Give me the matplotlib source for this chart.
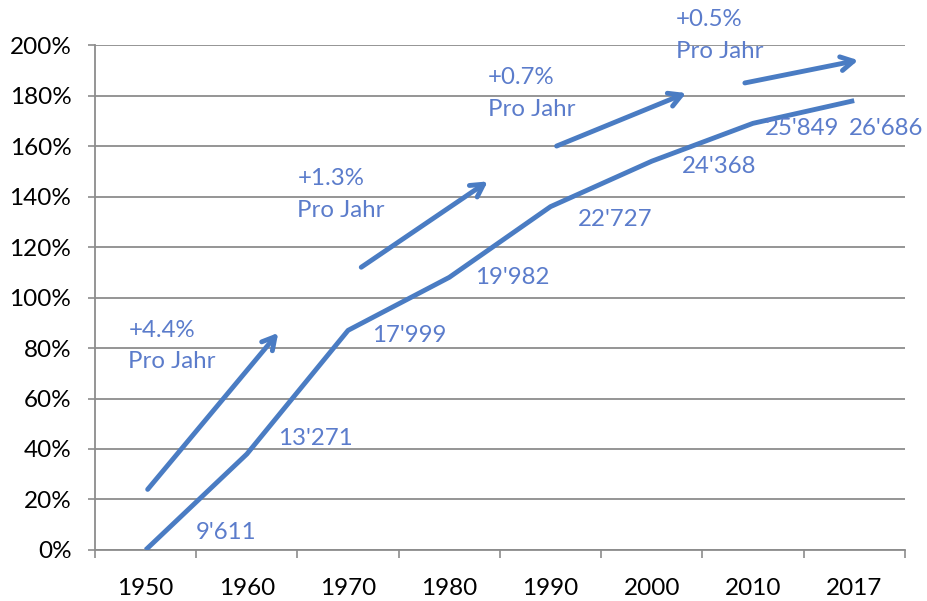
import matplotlib.pyplot as plt
import numpy as np

# Daten
jahre = ['1950', '1960', '1970', '1980', '1990', '2000', '2010', '2017']
wachstum = [0, 38, 87, 108, 136, 154, 169, 178]
werte = ["9'611", "13'271", "17'999", "19'982", "22'727", "24'368", "25'849", "26'686"]
wert_pos = [(0.5, 7), (1.31, 44), (2.24, 85), (3.25, 108), (4.27, 131),
            (5.3, 152), (6.12, 167), (6.95, 167)]

raten = ['+4.4%', '+1.3%', '+0.7%', '+0.5%']
rate_pos = [(-0.17, 87), (1.5, 147), (3.38, 187), (5.24, 210)]
pfeil_von = [(0.02, 24), (2.13, 112), (4.06, 160), (5.92, 185)]
pfeil_bis = [(1.31, 86), (3.38, 146), (5.34, 181), (7.04, 194)]

blau = '#4a7cc3'
text_blau = '#5b7ccb'
grau = '#8c8c8c'

plt.rcParams['font.family'] = ['Lato', 'DejaVu Sans']

fig = plt.figure(figsize=(9.28, 6.01), dpi=100)
ax = fig.add_axes([0.1024, 0.0849, 0.975 - 0.1024, 0.925 - 0.0849])

x = np.arange(len(jahre))
ax.plot(x, wachstum, color=blau, linewidth=3.5, solid_capstyle='butt', zorder=3)

for (px, py), t in zip(wert_pos, werte):
    ax.text(px, py, t, color=text_blau, fontsize=17.3, ha='left', va='center')

for (px, py), t in zip(rate_pos, raten):
    ax.text(px, py, t, color=text_blau, fontsize=17.3, ha='left', va='center', clip_on=False)
    ax.text(px, py - 12.5, 'Pro Jahr', color=text_blau, fontsize=17.3, ha='left',
            va='center', clip_on=False)

for a, b in zip(pfeil_von, pfeil_bis):
    ax.annotate('', xy=b, xytext=a, annotation_clip=False,
                arrowprops=dict(arrowstyle='->,head_length=0.9,head_width=0.5',
                                color=blau, lw=3.5, shrinkA=0, shrinkB=0))

ax.set_xlim(-0.5, len(jahre) - 0.5)
ax.set_ylim(0, 200)
ax.set_yticks(np.arange(0, 201, 20))
ax.set_yticklabels([f'{v}%' for v in range(0, 201, 20)])
ax.set_xticks(x)
ax.set_xticklabels(jahre)
ax.set_xticks(np.arange(-0.5, len(jahre)), minor=True)
ax.tick_params(axis='x', which='major', length=0, pad=20, labelsize=17.5)
ax.tick_params(axis='x', which='minor', length=6, color=grau, width=1.2)
ax.tick_params(axis='y', length=5, color=grau, width=1.2, pad=12, labelsize=17.5)

ax.grid(axis='y', color=grau, linewidth=1.3)
ax.set_axisbelow(True)
for s in ['top', 'right']:
    ax.spines[s].set_visible(False)
for s in ['left', 'bottom']:
    ax.spines[s].set_color(grau)
    ax.spines[s].set_linewidth(1.3)

fig.savefig('out.png', dpi=100)
